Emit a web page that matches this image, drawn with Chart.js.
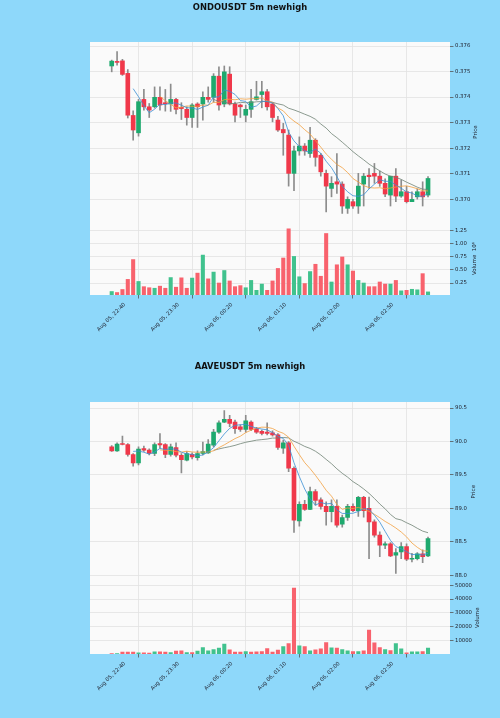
<!DOCTYPE html>
<html>
<head>
<meta charset="utf-8">
<script src="https://cdn.jsdelivr.net/npm/chart.js@4.4.1/dist/chart.umd.min.js"></script>
<style>
  html, body { margin: 0; padding: 0; background: #8ed8fa; }
  #page { position: relative; width: 500px; height: 718px; overflow: hidden; }
  .box { position: absolute; left: 0; width: 500px; height: 359px; }
  .ttl { position: absolute; left: 0; width: 500px; text-align: center; font: bold 8.4px "DejaVu Sans", sans-serif; color: #111; }
</style>
</head>
<body>
<div id="page">
  <div class="box" style="top:0"><canvas id="ondoChart"></canvas></div>
  <div class="box" style="top:359px"><canvas id="aaveChart"></canvas></div>
  <div class="ttl" style="top:2px">ONDOUSDT 5m newhigh</div>
  <div class="ttl" style="top:361px">AAVEUSDT 5m newhigh</div>
</div>
<script>
// x axis: candle index, ticks every 10 candles (5m bars)
const tickIndex = [0, 10, 20, 30, 40, 50, 60];
const tickLabels = ['Aug 05, 22:40', 'Aug 05, 23:30', 'Aug 06, 00:20', 'Aug 06, 01:10', 'Aug 06, 02:00', 'Aug 06, 02:50', ''];

const maWindows = [5, 10, 20];
const maColors = ['#3a8fd4', '#f3a03f', '#6f8274'];

// ONDOUSDT
const ondoOpen = [0.37522,0.37540,0.37542,0.37493,0.37328,0.37260,0.37391,0.37362,0.37362,0.37399,
  0.37378,0.37373,0.37391,0.37360,0.37352,0.37320,0.37373,0.37373,0.37399,0.37399,
  0.37482,0.37373,0.37490,0.37373,0.37369,0.37329,0.37352,0.37391,0.37410,0.37421,
  0.37373,0.37310,0.37273,0.37251,0.37101,0.37189,0.37208,0.37179,0.37231,0.37172,
  0.37101,0.37042,0.37068,0.37059,0.36964,0.36990,0.36973,0.37059,0.37094,0.37101,
  0.37090,0.37062,0.37016,0.37090,0.37012,0.37029,0.36990,0.37009,0.37029,0.37016];
const ondoHigh = [0.37545,0.37578,0.37548,0.37508,0.37346,0.37391,0.37430,0.37375,0.37440,0.37440,
  0.37430,0.37451,0.37395,0.37378,0.37362,0.37375,0.37378,0.37421,0.37440,0.37492,
  0.37519,0.37522,0.37519,0.37380,0.37373,0.37369,0.37430,0.37462,0.37462,0.37430,
  0.37378,0.37325,0.37297,0.37271,0.37208,0.37244,0.37218,0.37281,0.37237,0.37179,
  0.37114,0.37088,0.37179,0.37068,0.37009,0.36999,0.37101,0.37101,0.37120,0.37140,
  0.37110,0.37080,0.37090,0.37120,0.37075,0.37050,0.37029,0.37040,0.37068,0.37088];
const ondoLow = [0.37499,0.37525,0.37485,0.37318,0.37231,0.37247,0.37349,0.37320,0.37357,0.37349,
  0.37345,0.37344,0.37334,0.37312,0.37290,0.37281,0.37281,0.37310,0.37380,0.37380,
  0.37349,0.37362,0.37369,0.37303,0.37320,0.37303,0.37320,0.37388,0.37358,0.37349,
  0.37303,0.37265,0.37172,0.37051,0.37033,0.37172,0.37172,0.37164,0.37129,0.37090,
  0.36950,0.37009,0.37022,0.36944,0.36944,0.36964,0.36944,0.36973,0.37042,0.37062,
  0.37050,0.37010,0.36973,0.36990,0.37007,0.36985,0.36990,0.37000,0.36973,0.37009];
const ondoClose = [0.37541,0.37536,0.37489,0.37329,0.37271,0.37382,0.37362,0.37349,0.37399,0.37369,
  0.37374,0.37391,0.37352,0.37355,0.37320,0.37369,0.37362,0.37399,0.37391,0.37482,
  0.37369,0.37499,0.37373,0.37329,0.37362,0.37352,0.37382,0.37401,0.37421,0.37362,
  0.37320,0.37271,0.37260,0.37101,0.37189,0.37208,0.37189,0.37231,0.37164,0.37107,
  0.37051,0.37062,0.37059,0.36973,0.36999,0.36973,0.37051,0.37090,0.37088,0.37090,
  0.37062,0.37020,0.37090,0.37012,0.37029,0.36990,0.36999,0.37029,0.37009,0.37081];
const ondoVol = [87000,68000,126000,320000,700000,280000,180000,160000,150000,190000,
  150000,355000,170000,350000,150000,345000,440000,786000,330000,460000,
  250000,490000,290000,180000,200000,160000,300000,110000,230000,110000,
  290000,530000,730000,1290000,760000,370000,240000,470000,610000,380000,
  1200000,270000,600000,750000,600000,480000,300000,250000,180000,180000,
  270000,230000,230000,300000,100000,110000,130000,120000,430000,80000];
const ondoPriceTicks = [0.370, 0.371, 0.372, 0.373, 0.374, 0.375, 0.376];
const ondoVolTicks = [250000, 500000, 750000, 1000000, 1250000];

// AAVEUSDT
const aaveOpen = [89.92,89.86,89.97,89.955,89.806,89.68,89.895,89.87,89.82,89.97,
  89.955,89.806,89.91,89.795,89.72,89.81,89.76,89.82,89.83,89.945,
  90.14,90.29,90.33,90.29,90.22,90.18,90.29,90.19,90.15,90.14,
  90.13,90.10,89.90,89.98,89.60,88.815,89.06,88.985,89.25,89.13,
  89.03,88.95,89.03,88.765,88.865,89.03,88.965,89.165,89.00,88.80,
  88.60,88.45,88.47,88.30,88.35,88.43,88.24,88.25,88.32,88.29];
const aaveHigh = [89.94,89.98,90.08,89.97,89.82,89.92,89.93,89.89,89.98,90.12,
  89.97,89.96,89.98,89.82,89.85,89.83,89.86,89.99,90.03,90.18,
  90.31,90.46,90.39,90.32,90.25,90.39,90.31,90.21,90.17,90.28,
  90.16,90.12,90.02,90.00,89.62,89.10,89.12,89.32,89.28,89.16,
  89.10,89.13,89.13,88.90,89.06,89.07,89.18,89.18,89.17,88.83,
  88.65,88.50,88.49,88.40,88.49,88.47,88.33,88.34,88.38,88.57];
const aaveLow = [89.85,89.85,89.95,89.78,89.63,89.65,89.85,89.80,89.79,89.90,
  89.76,89.78,89.77,89.53,89.71,89.74,89.72,89.80,89.82,89.92,
  90.12,90.28,90.22,90.12,90.15,90.14,90.16,90.12,90.10,90.10,
  90.08,89.88,89.82,89.55,88.64,88.735,88.97,88.98,89.05,88.99,
  88.75,88.80,88.72,88.72,88.82,88.95,88.88,88.87,88.25,88.57,
  88.28,88.40,88.28,88.03,88.25,88.22,88.20,88.23,88.19,88.28];
const aaveClose = [89.86,89.96,89.955,89.806,89.68,89.885,89.87,89.82,89.955,89.95,
  89.806,89.92,89.795,89.73,89.82,89.77,89.82,89.85,89.96,90.14,
  90.28,90.33,90.27,90.19,90.18,90.31,90.18,90.14,90.12,90.12,
  90.10,89.91,89.98,89.60,88.825,89.06,88.985,89.25,89.12,89.03,
  88.95,89.03,88.75,88.865,89.03,88.965,89.165,88.965,88.80,88.60,
  88.45,88.47,88.29,88.34,88.43,88.24,88.25,88.32,88.28,88.55];
const aaveVol = [500,400,1450,1450,1450,970,970,730,1700,1700,
  1450,1200,2180,2420,1200,1200,2180,4850,2420,3400,
  4360,7270,3150,1450,1450,1940,1450,1700,1940,4120,
  1450,2900,5580,7760,48000,6060,5580,2420,3150,3880,
  8480,4600,4360,3400,2420,1940,1940,2420,17450,8240,
  4850,3400,2670,7760,3880,970,1700,1700,1940,4360];
const aavePriceTicks = [88.0, 88.5, 89.0, 89.5, 90.0, 90.5];
const aaveVolTicks = [10000, 20000, 30000, 40000, 50000];

const UP = '#1ea96e', DOWN = '#f0384a', VUP = '#40c28e', VDOWN = '#f8626d';
const txt = '#1e1e2a', gridC = '#e2e2e2';

Chart.defaults.font.family = '"DejaVu Sans", sans-serif';

function movingAvg(vals, n) {
  return vals.map((_, i) => i < n - 1 ? null : vals.slice(i - n + 1, i + 1).reduce((a, b) => a + b, 0) / n);
}

const plotBg = {
  id: 'plotBg',
  beforeDraw(chart) {
    const { ctx, chartArea: a } = chart;
    ctx.save();
    ctx.fillStyle = '#fafafa';
    ctx.fillRect(a.left, a.top, a.width, a.height);
    ctx.restore();
  }
};

// axis labels read bottom-to-top like matplotlib
const sideTitles = {
  id: 'sideTitles',
  afterDraw(chart, args, opts) {
    const { ctx } = chart;
    opts.items.forEach(it => {
      const s = chart.scales[it.axis];
      ctx.save();
      ctx.font = '5.5px "DejaVu Sans"';
      ctx.fillStyle = txt;
      ctx.textAlign = 'center';
      ctx.textBaseline = 'middle';
      ctx.translate(it.x, (s.top + s.bottom) / 2);
      ctx.rotate(-Math.PI / 2);
      ctx.fillText(it.text, 0, 0);
      ctx.restore();
    });
  }
};

function buildChart(id, o, h, l, c, v, cfg) {
  const idx = c.map((_, i) => i);
  const up = c.map((x, i) => x >= o[i]);
  const datasets = [];
  maWindows.forEach((n, k) => {
    const ma = movingAvg(c, n);
    datasets.push({
      type: 'line', data: idx.map(i => ({ x: i, y: ma[i] })),
      borderColor: maColors[k], borderWidth: 0.8, pointRadius: 0, yAxisID: 'y', order: 0
    });
  });
  datasets.push({
    type: 'bar', data: idx.map(i => ({ x: i, y: [o[i], c[i]] })),
    backgroundColor: up.map(u => u ? UP : DOWN), barThickness: 4, minBarLength: 1,
    grouped: false, yAxisID: 'y', order: 1
  });
  datasets.push({
    type: 'bar', data: idx.map(i => ({ x: i, y: [l[i], h[i]] })),
    backgroundColor: '#8c8c8c', barThickness: 1, grouped: false, yAxisID: 'y', order: 2
  });
  datasets.push({
    type: 'bar', data: idx.map(i => ({ x: i, y: v[i] })),
    backgroundColor: up.map(u => u ? VUP : VDOWN), barThickness: 3.4,
    grouped: false, yAxisID: 'yv', order: 3
  });

  const tickFont = { size: 5.35 };
  const gridOpts = { color: gridC, lineWidth: 0.8, tickLength: 3.5, tickColor: '#555' };
  new Chart(document.getElementById(id), {
    type: 'bar',
    data: { datasets },
    plugins: [plotBg, sideTitles],
    options: {
      responsive: true,
      maintainAspectRatio: false,
      animation: false,
      layout: { padding: { left: 90, top: cfg.top, right: 0, bottom: 0 } },
      plugins: {
        legend: { display: false },
        tooltip: { enabled: false },
        sideTitles: { items: cfg.titles }
      },
      scales: {
        x: {
          type: 'linear', min: -4.05, max: 63.1, offset: false,
          afterBuildTicks: s => { s.ticks = tickIndex.map(t => ({ value: t })); },
          afterFit: s => { s.height = 64; },
          ticks: {
            autoSkip: false, minRotation: 45, maxRotation: 45, labelOffset: 13, padding: 3,
            font: tickFont, color: txt,
            callback: val => { const k = tickIndex.indexOf(val); return k < 0 ? '' : tickLabels[k]; }
          },
          grid: gridOpts,
          border: { display: false }
        },
        y: {
          position: 'right', stack: 'panels', stackWeight: 2.47,
          min: cfg.pMin, max: cfg.pMax,
          afterBuildTicks: s => { s.ticks = cfg.pTicks.map(t => ({ value: t })); },
          afterFit: s => { s.width = 50; },
          ticks: { padding: 1.5, font: tickFont, color: txt, callback: val => val.toFixed(cfg.pDec) },
          grid: gridOpts,
          border: { display: false }
        },
        yv: {
          position: 'right', stack: 'panels', stackWeight: 1,
          min: 0.3 * Math.min(...v), max: 1.1 * Math.max(...v),
          afterBuildTicks: s => { s.ticks = cfg.vTicks.map(t => ({ value: t })); },
          afterFit: s => { s.width = 50; },
          ticks: { padding: 1.5, font: tickFont, color: txt, callback: cfg.vFmt },
          grid: gridOpts,
          border: { display: false }
        }
      }
    }
  });
}

buildChart('ondoChart', ondoOpen, ondoHigh, ondoLow, ondoClose, ondoVol, {
  top: 42, pMin: 0.36910, pMax: 0.37616, pTicks: ondoPriceTicks, pDec: 3, vTicks: ondoVolTicks,
  vFmt: val => (val / 1e6).toFixed(2),
  titles: [{ axis: 'y', x: 476, text: 'Price' }, { axis: 'yv', x: 474.5, text: 'Volume  10\u2076' }]
});
buildChart('aaveChart', aaveOpen, aaveHigh, aaveLow, aaveClose, aaveVol, {
  top: 43, pMin: 87.91, pMax: 90.59, pTicks: aavePriceTicks, pDec: 1, vTicks: aaveVolTicks,
  vFmt: val => String(Math.round(val)),
  titles: [{ axis: 'y', x: 473.5, text: 'Price' }, { axis: 'yv', x: 477.5, text: 'Volume' }]
});
</script>
</body>
</html>
